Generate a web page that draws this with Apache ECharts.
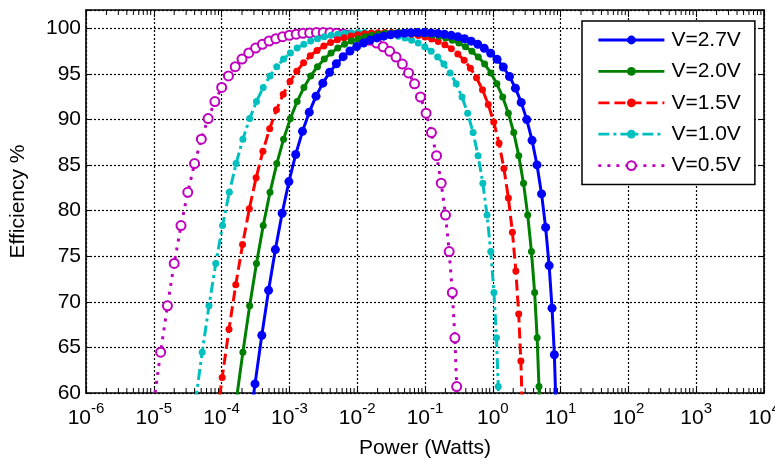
<!DOCTYPE html>
<html>
<head>
<meta charset="utf-8">
<script src="https://cdn.jsdelivr.net/npm/echarts@6/dist/echarts.min.js"></script>
<style>
html, body { margin: 0; background: #fff; }
#chart { width: 775px; height: 460px; }
</style>
</head>
<body>
<div id="chart"></div>
<script>
// log10 of output power (W) and efficiency (%), one pair per marker
const v27LogP = [-3.607, -3.507, -3.407, -3.307, -3.207, -3.107, -3.007, -2.907, -2.807, -2.707, -2.607, -2.507, -2.407, -2.307, -2.207, -2.107, -2.007, -1.907, -1.808, -1.708, -1.608, -1.508, -1.408, -1.308, -1.209, -1.109, -1.010, -0.910, -0.811, -0.712, -0.613, -0.515, -0.417, -0.319, -0.222, -0.126, -0.031, 0.063, 0.155, 0.246, 0.334, 0.419, 0.501, 0.579, 0.652, 0.719, 0.779, 0.831, 0.874, 0.908, 0.931]
const v27Eff = [55.41, 61.00, 66.32, 71.26, 75.73, 79.71, 83.18, 86.16, 88.69, 90.80, 92.55, 93.98, 95.16, 96.11, 96.88, 97.50, 97.99, 98.38, 98.70, 98.94, 99.13, 99.28, 99.38, 99.46, 99.50, 99.52, 99.52, 99.49, 99.43, 99.34, 99.22, 99.06, 98.85, 98.58, 98.24, 97.80, 97.26, 96.59, 95.75, 94.71, 93.43, 91.87, 89.98, 87.71, 85.01, 81.83, 78.16, 73.97, 69.30, 64.20, 58.75]

const v20LogP = [-3.786, -3.686, -3.586, -3.486, -3.386, -3.286, -3.186, -3.086, -2.986, -2.886, -2.786, -2.686, -2.586, -2.486, -2.386, -2.286, -2.186, -2.086, -1.986, -1.886, -1.787, -1.687, -1.587, -1.487, -1.388, -1.288, -1.189, -1.089, -0.990, -0.891, -0.793, -0.695, -0.597, -0.500, -0.403, -0.308, -0.214, -0.121, -0.029, 0.060, 0.146, 0.229, 0.309, 0.383, 0.453, 0.515, 0.570, 0.617, 0.654, 0.681, 0.697]
const v20Eff = [59.05, 64.48, 69.56, 74.21, 78.36, 82.01, 85.16, 87.84, 90.09, 91.96, 93.51, 94.77, 95.79, 96.62, 97.29, 97.83, 98.24, 98.60, 98.86, 99.07, 99.23, 99.35, 99.44, 99.49, 99.52, 99.52, 99.50, 99.46, 99.38, 99.27, 99.12, 98.93, 98.68, 98.37, 97.97, 97.47, 96.84, 96.07, 95.10, 93.91, 92.46, 90.69, 88.56, 86.02, 83.01, 79.51, 75.51, 71.01, 66.05, 60.71, 55.10]

const v15LogP = [-4.091, -3.991, -3.891, -3.791, -3.691, -3.591, -3.491, -3.391, -3.291, -3.191, -3.091, -2.991, -2.891, -2.791, -2.692, -2.592, -2.492, -2.392, -2.292, -2.192, -2.092, -1.992, -1.892, -1.793, -1.693, -1.593, -1.494, -1.394, -1.295, -1.196, -1.098, -0.999, -0.901, -0.804, -0.707, -0.611, -0.516, -0.422, -0.330, -0.240, -0.152, -0.067, 0.014, 0.092, 0.164, 0.230, 0.289, 0.340, 0.382, 0.414, 0.436]
const v15Eff = [56.15, 61.71, 66.99, 71.87, 76.29, 80.20, 83.60, 86.52, 88.99, 91.05, 92.76, 94.15, 95.29, 96.22, 96.97, 97.57, 98.05, 98.43, 98.73, 98.97, 99.15, 99.29, 99.40, 99.47, 99.51, 99.52, 99.52, 99.48, 99.42, 99.33, 99.20, 99.04, 98.82, 98.54, 98.18, 97.74, 97.18, 96.48, 95.62, 94.56, 93.25, 91.64, 89.71, 87.38, 84.62, 81.38, 77.64, 73.39, 68.65, 63.50, 58.02]

const v10LogP = [-4.386, -4.286, -4.186, -4.086, -3.986, -3.886, -3.786, -3.686, -3.586, -3.486, -3.386, -3.286, -3.186, -3.086, -2.986, -2.886, -2.786, -2.686, -2.586, -2.486, -2.386, -2.287, -2.187, -2.087, -1.988, -1.888, -1.789, -1.689, -1.590, -1.491, -1.393, -1.295, -1.197, -1.100, -1.003, -0.908, -0.813, -0.721, -0.629, -0.540, -0.454, -0.371, -0.291, -0.217, -0.147, -0.085, -0.030, 0.017, 0.054, 0.081, 0.097]
const v10Eff = [59.05, 64.48, 69.56, 74.21, 78.36, 82.01, 85.16, 87.84, 90.09, 91.96, 93.51, 94.77, 95.79, 96.62, 97.29, 97.83, 98.24, 98.60, 98.86, 99.07, 99.23, 99.35, 99.44, 99.49, 99.52, 99.52, 99.50, 99.46, 99.38, 99.27, 99.12, 98.93, 98.68, 98.37, 97.97, 97.47, 96.84, 96.07, 95.10, 93.91, 92.46, 90.69, 88.56, 86.02, 83.01, 79.51, 75.51, 71.01, 66.05, 60.71, 55.10]

const v05LogP = [-4.999, -4.899, -4.799, -4.699, -4.599, -4.499, -4.399, -4.299, -4.199, -4.099, -3.999, -3.899, -3.799, -3.699, -3.599, -3.499, -3.399, -3.300, -3.200, -3.100, -3.000, -2.900, -2.800, -2.701, -2.601, -2.501, -2.402, -2.303, -2.204, -2.105, -2.006, -1.908, -1.810, -1.713, -1.617, -1.521, -1.427, -1.334, -1.243, -1.154, -1.067, -0.984, -0.905, -0.830, -0.761, -0.698, -0.643, -0.597, -0.559, -0.533, -0.517]
const v05Eff = [59.05, 64.48, 69.56, 74.21, 78.36, 82.01, 85.16, 87.84, 90.09, 91.96, 93.51, 94.77, 95.79, 96.62, 97.29, 97.83, 98.24, 98.60, 98.86, 99.07, 99.23, 99.35, 99.44, 99.49, 99.52, 99.52, 99.50, 99.46, 99.38, 99.27, 99.12, 98.93, 98.68, 98.37, 97.97, 97.47, 96.84, 96.07, 95.10, 93.91, 92.46, 90.69, 88.56, 86.02, 83.01, 79.51, 75.51, 71.01, 66.05, 60.71, 55.10]

const seriesNames = ["V=2.7V", "V=2.0V", "V=1.5V", "V=1.0V", "V=0.5V"]

// log axis decades and the minor tick multiples inside each decade
const decades = [1e-6, 1e-5, 1e-4, 1e-3, 1e-2, 1e-1, 1e0, 1e1, 1e2, 1e3]
const minorMults = [2, 3, 4, 5, 6, 7, 8, 9]

const FONT = "Liberation Sans, Arial, Helvetica, sans-serif"
const Y_MIN = 60
const Y_MAX = 102

function pairs(logP, eff){
    return logP.map((e, i) => [Math.pow(10, e), eff[i]])
}

let minorTicks = []
decades.forEach(d => {
    minorMults.forEach(m => minorTicks.push([m * d, Y_MIN]))
})

let myChart = echarts.init(document.getElementById("chart"))

let gridLine = {
    show: true,
    lineStyle: { color: "#000", width: 1.2, type: [2, 2] }
}
let frame = { show: true, onZero: false, lineStyle: { color: "#000", width: 1.6 } }

let option = {
    animation: false,
    backgroundColor: "#fff",
    textStyle: { fontFamily: FONT },
    grid: { left: 86, right: 11, top: 10, bottom: 67, outerBoundsMode: "none", containLabel: false },
    legend: {
        orient: "vertical",
        left: 582,
        top: 21,
        padding: [8, 14, 8, 15],
        itemWidth: 66,
        itemHeight: 11,
        itemGap: 9.4,
        backgroundColor: "#fff",
        borderColor: "#000",
        borderWidth: 1.5,
        borderRadius: 0,
        lineStyle: { width: 2.8 },
        textStyle: { fontSize: 21, color: "#000", fontFamily: FONT, lineHeight: 22, padding: [0, 0, 0, 2] },
        data: seriesNames
    },
    xAxis: [{
        type: "log",
        logBase: 10,
        min: 1e-6,
        max: 1e4,
        interval: 1,
        name: "Power (Watts)",
        nameLocation: "middle",
        nameGap: 45,
        nameTextStyle: { fontSize: 21, color: "#000", fontFamily: FONT },
        axisLine: frame,
        axisTick: { show: true, inside: true, length: 7, lineStyle: { color: "#000" } },
        splitLine: gridLine,
        axisLabel: {
            interval: 0,
            margin: 8,
            color: "#000",
            formatter: v => {
                let p = Math.round(Math.log10(v))
                return "{b|10}{s|" + p + "}"
            },
            rich: {
                b: { fontSize: 21, fontFamily: FONT, color: "#000", verticalAlign: "bottom", padding: [7, 0, 0, 0] },
                s: { fontSize: 15, fontFamily: FONT, color: "#000", verticalAlign: "top" }
            }
        }
    }, {
        type: "log",
        logBase: 10,
        min: 1e-6,
        max: 1e4,
        interval: 1,
        position: "top",
        axisLine: frame,
        axisTick: { show: true, inside: true, length: 7, lineStyle: { color: "#000" } },
        axisLabel: { show: false },
        splitLine: { show: false }
    }],
    yAxis: [{
        type: "value",
        min: Y_MIN,
        max: Y_MAX,
        interval: 5,
        name: "Efficiency %",
        nameLocation: "middle",
        nameGap: 57,
        nameTextStyle: { fontSize: 21, color: "#000", fontFamily: FONT },
        axisLine: frame,
        axisTick: { show: true, inside: true, length: 6, lineStyle: { color: "#000" } },
        splitLine: gridLine,
        axisLabel: {
            fontSize: 21,
            color: "#000",
            margin: 5,
            formatter: v => (v > 100 ? "" : String(v))
        }
    }, {
        type: "value",
        min: Y_MIN,
        max: Y_MAX,
        interval: 5,
        position: "right",
        axisLine: frame,
        axisTick: { show: true, inside: true, length: 6, lineStyle: { color: "#000" } },
        axisLabel: { show: false },
        splitLine: { show: false }
    }],
    series: [
        {
            name: "V=2.7V",
            type: "line",
            z: 7,
            data: pairs(v27LogP, v27Eff),
            symbol: "circle",
            symbolSize: 9,
            itemStyle: { color: "#0000ff" },
            lineStyle: { color: "#0000ff", width: 3 }
        },
        {
            name: "V=2.0V",
            type: "line",
            z: 6,
            data: pairs(v20LogP, v20Eff),
            symbol: "circle",
            symbolSize: 7,
            itemStyle: { color: "#008000" },
            lineStyle: { color: "#008000", width: 3 }
        },
        {
            name: "V=1.5V",
            type: "line",
            z: 5,
            data: pairs(v15LogP, v15Eff),
            symbol: "circle",
            symbolSize: 7,
            itemStyle: { color: "#ff0000" },
            lineStyle: { color: "#ff0000", width: 3, type: [11, 5] }
        },
        {
            name: "V=1.0V",
            type: "line",
            z: 4,
            data: pairs(v10LogP, v10Eff),
            symbol: "circle",
            symbolSize: 7,
            itemStyle: { color: "#00bfbf" },
            lineStyle: { color: "#00bfbf", width: 3, type: [11, 4, 3, 4] }
        },
        {
            name: "V=0.5V",
            type: "line",
            z: 3,
            data: pairs(v05LogP, v05Eff),
            symbol: "emptyCircle",
            symbolSize: 9,
            itemStyle: { color: "#bf00bf", borderWidth: 2.5 },
            lineStyle: { color: "#bf00bf", width: 3, type: [3, 6] }
        },
        {
            // minor log ticks on the bottom and top edges of the box
            name: "minorTicks",
            type: "custom",
            silent: true,
            z: 2,
            data: minorTicks,
            renderItem: (params, api) => {
                let x = api.value(0)
                let pb = api.coord([x, Y_MIN])
                let pt = api.coord([x, Y_MAX])
                let st = { stroke: "#000", lineWidth: 1 }
                return {
                    type: "group",
                    children: [
                        { type: "line", shape: { x1: pb[0], y1: pb[1], x2: pb[0], y2: pb[1] - 5 }, style: st },
                        { type: "line", shape: { x1: pt[0], y1: pt[1], x2: pt[0], y2: pt[1] + 5 }, style: st }
                    ]
                }
            }
        }
    ]
}
myChart.setOption(option)
</script>
</body>
</html>
